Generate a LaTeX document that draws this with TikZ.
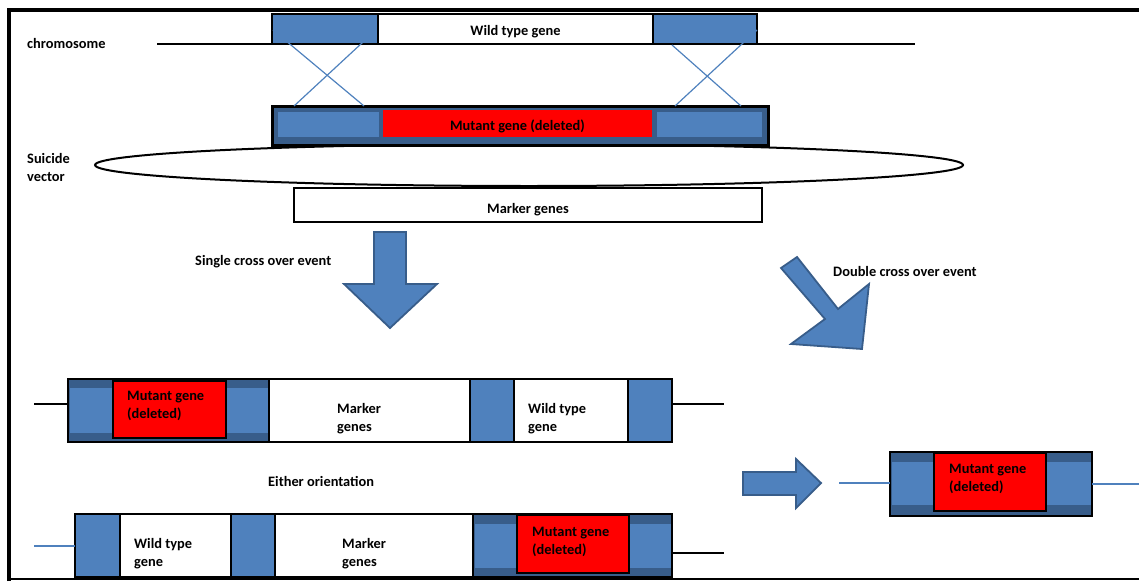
\documentclass[tikz,border=0pt]{standalone}
\usepackage{fontspec}
\setmainfont{Carlito}
\definecolor{gblue}{HTML}{4F81BD}
\definecolor{dblue}{HTML}{385D8A}
\definecolor{gred}{HTML}{FF0000}
\newcommand\segbox[6]{\node[#6, minimum width={#4-#2}, minimum height={#5-#3}] (#1) at (#2,#3) {};}
\tikzset{
  seg/.style={draw=black, line width=1.8pt, inner sep=0pt, outer sep=0pt, anchor=north west},
  band/.style={inner sep=0pt, outer sep=0pt, anchor=north west, fill=gblue},
  txt/.style={inner sep=0pt, font=\bfseries\fontsize{14.4}{18}\selectfont, align=left},
  fatarrow/.style={fill=gblue, draw=dblue, line width=1.8pt, line join=miter},
  xline/.style={draw=gblue, line width=1.2pt},
  dna/.style={line width=1.2pt}
}
\begin{document}
\begin{tikzpicture}[x=1pt, y=-1pt]
\useasboundingbox (0,0) rectangle (1139,581);
% frame
\draw[line width=4pt] (9,581) -- (9,10) -- (1139,10);
\draw[line width=1.5pt] (9,579) -- (1139,579);

% chromosome
\node[txt, anchor=west] (chrlbl) at (27,43) {chromosome};
\coordinate (chrL) at (157,44);
\coordinate (chrR) at (915,44);
\draw[dna] (chrL) -- (chrR);
\segbox{c1}{272}{14}{378}{44}{seg, fill=gblue}
\segbox{wt}{378}{14}{653}{44}{seg, fill=white}
\segbox{c2}{653}{14}{757}{44}{seg, fill=gblue}
\node[txt] at ([yshift=-3pt]wt.center) {Wild type gene};

% suicide vector
\draw[line width=2pt, fill=white] (529,165) ellipse [x radius=434, y radius=21];
\node[txt, anchor=west] (svlbl) at (27,167) {Suicide\\vector};
\segbox{vbox}{272}{106}{768}{145}{seg, fill=dblue, line width=3pt}
\segbox{vb1}{278}{112}{379}{137}{band}
\segbox{vred}{383}{110}{652}{137}{band, fill=gred}
\segbox{vb2}{657}{112}{762}{137}{band}
\node[txt] at ([yshift=-3pt]vred.center) {Mutant gene (deleted)};
\segbox{mk}{294}{188}{762}{222}{seg, fill=white}
\node[txt] at ([yshift=-5pt]mk.center) {Marker genes};

% crossing lines
\coordinate (a1) at (273,30); \coordinate (a2) at (364,106);
\coordinate (a3) at (376,30); \coordinate (a4) at (294,106);
\coordinate (b1) at (672,45); \coordinate (b2) at (741,106);
\coordinate (b3) at (757,30); \coordinate (b4) at (675,106);
\draw[xline] (a1) -- (a2);
\draw[xline] (a3) -- (a4);
\draw[xline] (b1) -- (b2);
\draw[xline] (b3) -- (b4);

% arrows
\draw[fatarrow] (374,232) -- (406,232) -- (406,284) -- (437,284) -- (390,328) -- (344,284) -- (374,284) -- cycle;
\node[txt, anchor=west] (single) at (195,262) {Single cross over event};
\draw[fatarrow] (797,257) -- (838,309) -- (869,284) -- (862,349) -- (791,344) -- (825,319) -- (781,268) -- cycle;
\node[txt, anchor=west] (double) at (833,271) {Double cross over event};

% row 1
\segbox{r1a}{68}{379}{269}{442}{seg, fill=dblue}
\segbox{r1ab}{69.5}{388}{267.5}{433}{band}
\segbox{r1red}{113}{381}{226}{438}{seg, fill=gred, line width=1.5pt}
\segbox{r1mk}{269}{379}{470}{442}{seg, fill=white}
\segbox{r1b}{470}{379}{514}{442}{seg, fill=gblue}
\segbox{r1wt}{514}{379}{628}{442}{seg, fill=white}
\segbox{r1c}{628}{379}{672}{442}{seg, fill=gblue}
\draw[line width=2.5pt] (68,379) rectangle (672,442);
\coordinate (r1L) at (34,404);
\coordinate (r1R) at (724,404);
\draw[dna] (r1L) -- (r1a.west |- r1L);
\draw[dna] (r1c.east |- r1R) -- (r1R);
\node[txt, anchor=west] at (127,406) {Mutant gene\\(deleted)};
\node[txt, anchor=west] at (337,419) {Marker\\genes};
\node[txt, anchor=west] at (528,419) {Wild type\\gene};

\node[txt, anchor=west] (either) at (268,481) {Either orientation};

% row 2
\segbox{r2a}{75}{514}{120}{577}{seg, fill=gblue}
\segbox{r2wt}{120}{514}{231}{577}{seg, fill=white}
\segbox{r2b}{231}{514}{275}{577}{seg, fill=gblue}
\segbox{r2mk}{275}{514}{473}{577}{seg, fill=white}
\segbox{r2c}{473}{514}{672}{577}{seg, fill=dblue}
\segbox{r2cb}{474.5}{524}{670.5}{568}{band}
\segbox{r2red}{517}{515}{629}{573}{seg, fill=gred, line width=1.5pt}
\draw[line width=2.5pt] (75,514) rectangle (672,577);
\coordinate (r2L) at (34,546);
\coordinate (r2R) at (724,553);
\draw[dna, gblue] (r2L) -- (r2a.west |- r2L);
\draw[dna] (r2c.east |- r2R) -- (r2R);
\node[txt, anchor=west] at (134,554) {Wild type\\gene};
\node[txt, anchor=west] at (342,554) {Marker\\genes};
\node[txt, anchor=west] at (532,542) {Mutant gene\\(deleted)};

% right arrow and final
\draw[fatarrow] (743,472) -- (796,472) -- (796,459) -- (821,483) -- (796,508) -- (796,495) -- (743,495) -- cycle;
\segbox{fin}{890}{452}{1092}{516}{seg, fill=dblue}
\segbox{finb}{891.5}{462}{1090.5}{505}{band}
\segbox{finred}{934}{453}{1046}{511}{seg, fill=gred, line width=1.5pt}
\draw[line width=2.5pt] (890,452) rectangle (1092,516);
\coordinate (fL) at (839,483);
\coordinate (fR) at (1139,484);
\draw[dna, gblue] (fL) -- (fin.west |- fL);
\draw[dna, gblue] (fin.east |- fR) -- (fR);
\node[txt, anchor=west] at (949,479) {Mutant gene\\(deleted)};
\end{tikzpicture}
\end{document}
